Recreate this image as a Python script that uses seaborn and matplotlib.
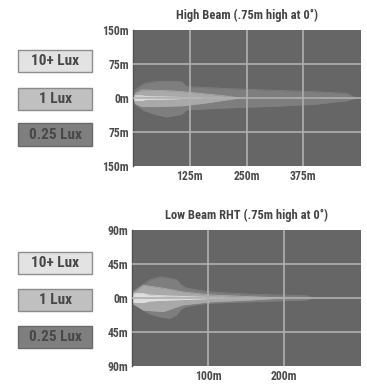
import numpy as np
import pandas as pd
import matplotlib
matplotlib.use("Agg")
import matplotlib.pyplot as plt
import seaborn as sns
from matplotlib.patches import Rectangle
from matplotlib import font_manager

sns.set_theme(style="dark")
_names = {f.name for f in font_manager.fontManager.ttflist}
_fam = [n for n in ["Liberation Sans Narrow", "Roboto Condensed", "Open Sans Condensed",
                    "Liberation Sans", "DejaVu Sans"] if n in _names]
NARROW = "Liberation Sans Narrow" in _names or "Roboto Condensed" in _names
plt.rcParams['font.family'] = _fam + ["DejaVu Sans"]

# ---------------- data ----------------
legend_labels = ["10+ Lux", "1 Lux", "0.25 Lux"]

# High beam (distance m, upper m, lower m)
hb_outer_x = [0, 10, 25, 48, 74, 107, 118, 200, 294, 400, 470, 492]
hb_outer_up = [14, 22, 32, 36, 37, 36, 25, 21, 17.6, 14, 10, 0]
hb_outer_lo = [-11, -18, -28, -36, -42, -36, -26, -22, -19, -14, -6, 0]

hb_mid_x = [0, 8, 20, 50, 80, 110, 160, 200, 235]
hb_mid_up = [4, 12, 18, 17, 16, 14, 9, 5, 0]
hb_mid_lo = [-6, -14, -19, -19, -18, -17, -11, -5, 0]

hb_in_x = [0, 5, 20, 30, 60, 100, 150]
hb_in_up = [4, 5, 5, 3, 2.5, 1.5, 0]
hb_in_lo = [-4, -5, -5, -3, -2.5, -1.5, 0]

hb_xticks = [125, 250, 375]
hb_xlabels = ["125m", "250m", "375m"]
hb_yticks = [150, 75, 0, -75, -150]
hb_ylabels = ["150m", "75m", "0m", "75m", "150m"]

# Low beam RHT
lb_outer_x = [0, 14.5, 23, 36.6, 50, 58.6, 65, 72, 98, 155, 230, 239]
lb_outer_up = [8.4, 18, 24, 28, 26, 24, 17, 13, 8.4, 5, 3, 0]
lb_outer_lo = [-5, -16, -21, -25, -27, -22, -14, -11, -7, -5, -2.6, 0]

lb_mid_x = [0, 14.5, 41, 67, 103, 155, 200]
lb_mid_up = [6, 17, 13, 8, 4, 1.8, 0]
lb_mid_lo = [-7, -16, -18, -9, -5, -2.6, 0]

lb_in_x = [0, 5, 15, 22, 40, 80, 120]
lb_in_up = [5, 6, 6, 4, 3, 1.5, 0]
lb_in_lo = [-5, -6, -6, -4, -3, -1.5, 0]

lb_xticks = [100, 200]
lb_xlabels = ["100m", "200m"]
lb_yticks = [90, 45, 0, -45, -90]
lb_ylabels = ["90m", "45m", "0m", "45m", "90m"]

# ---------------- style ----------------
BG = "#666666"
C_OUT = "#7e7e7e"
C_MID = "#a9a9a9"
C_IN = "#dedede"
GRID = "#b0b0b0"
TXT = "#444444"
box_fc = ["#e3e3e3", "#c0c0c0", "#7f7f7f"]
box_ec = ["#8e8e8e", "#8a8a8a", "#6a6a6a"]

TICK_FS = 8.5 if NARROW else 7
TITLE_FS = 9 if NARROW else 8
LEG_FS = 11 if NARROW else 9

fig = plt.figure(figsize=(3.67, 3.92), dpi=100)
fig.patch.set_facecolor("white")


def draw_panel(ax, title, bands, xlim, ylim, xticks, xlabels, yticks, ylabels):
    ax.set_facecolor(BG)
    colors = [C_OUT, C_MID, C_IN]
    for (x, up, lo), c in zip(bands, colors):
        df = pd.DataFrame({"x": x, "up": up, "lo": lo})
        ax.fill_between(df["x"], df["lo"], df["up"], color=c, lw=0, zorder=2)
        sns.lineplot(x=df["x"], y=df["up"], ax=ax, color=c, lw=0.6, zorder=2)
        sns.lineplot(x=df["x"], y=df["lo"], ax=ax, color=c, lw=0.6, zorder=2)
    for xt in xticks:
        ax.axvline(xt, color=GRID, lw=1.2, zorder=3)
    for yt in yticks[1:-1]:
        ax.axhline(yt, color=GRID, lw=1.2, zorder=3)
    ax.set_xlim(*xlim)
    ax.set_ylim(*ylim)
    ax.set_xticks(xticks)
    ax.set_xticklabels(xlabels)
    ax.set_yticks(yticks)
    ax.set_yticklabels(ylabels)
    ax.tick_params(axis="both", length=0, labelsize=TICK_FS, colors="#4c4c4c", pad=3)
    for t in ax.get_xticklabels() + ax.get_yticklabels():
        t.set_fontweight("bold")
    ax.set_xlabel("")
    ax.set_ylabel("")
    ax.grid(False)
    for s in ["top", "right", "bottom"]:
        ax.spines[s].set_visible(False)
    ax.spines["left"].set_visible(True)
    ax.spines["left"].set_color("#505050")
    ax.spines["left"].set_linewidth(1.0)
    ax.set_title(title, fontsize=TITLE_FS, color=TXT, pad=8, fontweight="bold")


ax1 = fig.add_axes([0.3624, 0.5765, 0.6213, 0.347])
draw_panel(ax1, "High Beam (.75m high at 0˚)",
           [(hb_outer_x, hb_outer_up, hb_outer_lo),
            (hb_mid_x, hb_mid_up, hb_mid_lo),
            (hb_in_x, hb_in_up, hb_in_lo)],
           (0, 502), (-150, 150), hb_xticks, hb_xlabels, hb_yticks, hb_ylabels)

ax2 = fig.add_axes([0.3604, 0.0663, 0.6233, 0.347])
draw_panel(ax2, "Low Beam RHT (.75m high at 0˚)",
           [(lb_outer_x, lb_outer_up, lb_outer_lo),
            (lb_mid_x, lb_mid_up, lb_mid_lo),
            (lb_in_x, lb_in_up, lb_in_lo)],
           (0, 302), (-90, 90), lb_xticks, lb_xlabels, lb_yticks, lb_ylabels)


def draw_legend(y_bottoms):
    for lab, yb, fc, ec in zip(legend_labels, y_bottoms, box_fc, box_ec):
        r = Rectangle((0.049, yb), 0.202, 0.057, transform=fig.transFigure,
                      facecolor=fc, edgecolor=ec, lw=1.0)
        fig.add_artist(r)
        fig.text(0.15, yb + 0.0285, lab, ha="center", va="center",
                 fontsize=LEG_FS, color="#484848", fontweight="bold")


draw_legend([0.816, 0.719, 0.628])
draw_legend([0.301, 0.207, 0.112])

fig.savefig("out.png", dpi=100)
